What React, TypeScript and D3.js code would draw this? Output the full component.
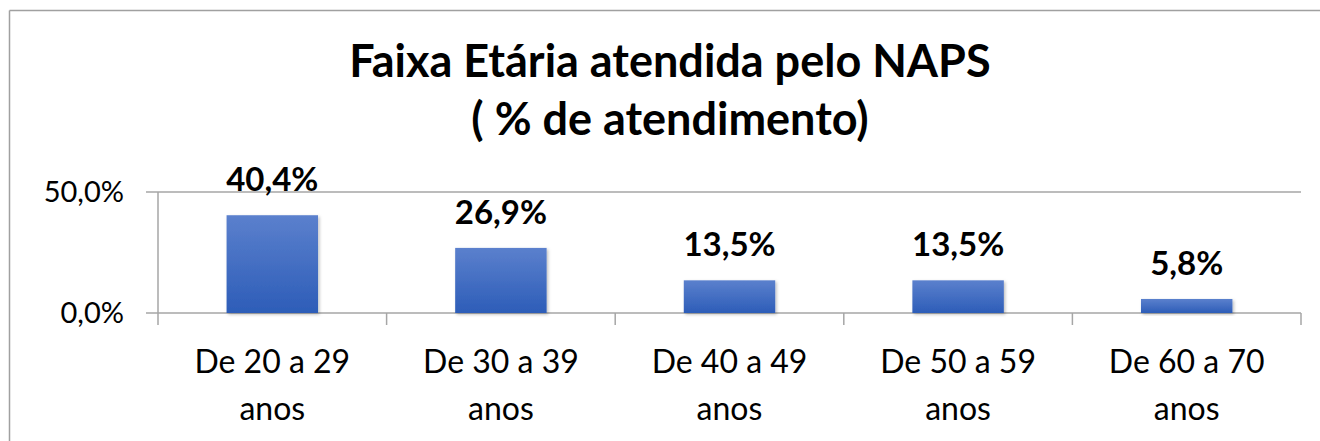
import React from "react";
import * as d3 from "d3";

const categories = ["De 20 a 29|anos", "De 30 a 39|anos", "De 40 a 49|anos", "De 50 a 59|anos", "De 60 a 70|anos"];
const values = [40.4, 26.9, 13.5, 13.5, 5.8];
const yTicks = [0, 50];
const titleLines = ["Faixa Etária atendida pelo NAPS", "( % de atendimento)"];

const W = 1320;
const H = 441;
const FONT = "Lato, 'Open Sans', sans-serif";

const fmt = (v: number) => v.toFixed(1).replace(".", ",") + "%";

export default function App() {
  const left = 158, right = 1301, top = 192, bottom = 313;
  const x = d3.scaleBand<string>().domain(categories).range([left, right]).paddingInner(0.6).paddingOuter(0.3);
  const xOuter = d3.scaleBand<string>().domain(categories).range([left, right]);
  const y = d3.scaleLinear().domain([0, 50]).range([bottom, top]);

  return (
    <div style={{ position: "absolute", left: 0, top: 0 }}>
      <svg width={W} height={H} style={{ display: "block" }}>
        <defs>
          <linearGradient id="barGrad" x1="0" y1="0" x2="0" y2="1">
            <stop offset="0%" stopColor="#5b80cd" />
            <stop offset="100%" stopColor="#2d5db8" />
          </linearGradient>
          <filter id="shadow" x="-10%" y="-10%" width="130%" height="130%">
            <feDropShadow dx="1.5" dy="1.5" stdDeviation="1.5" floodColor="#000" floodOpacity="0.25" />
          </filter>
        </defs>
        <rect x={0} y={0} width={W} height={H} fill="#fff" />
        {/* outer border */}
        <line x1={9.5} y1={10.5} x2={W} y2={10.5} stroke="#a0a0a0" strokeWidth={1.5} />
        <line x1={9.5} y1={10.5} x2={9.5} y2={H} stroke="#a0a0a0" strokeWidth={1.5} />

        {/* title */}
        {titleLines.map((t, i) => (
          <text key={i} x={670} y={77 + i * 58} textAnchor="middle" fontFamily={FONT} fontWeight={700} fontSize={45} fill="#000">
            {t}
          </text>
        ))}

        {/* gridlines */}
        {yTicks.map((t) => (
          <g key={t}>
            <line x1={146} x2={right} y1={y(t)} y2={y(t)} stroke="#a6a6a6" strokeWidth={1.5} />
            <text x={124} y={y(t)} dy="0.36em" textAnchor="end" fontFamily={FONT} fontSize={29} fill="#000">
              {fmt(t)}
            </text>
          </g>
        ))}
        {/* y axis */}
        <line x1={left} x2={left} y1={top} y2={bottom + 12} stroke="#a6a6a6" strokeWidth={1.5} />
        {/* x ticks */}
        {categories.map((c) => (
          <line key={c} x1={(xOuter(c) as number) + xOuter.bandwidth()} x2={(xOuter(c) as number) + xOuter.bandwidth()} y1={bottom} y2={bottom + 12} stroke="#a6a6a6" strokeWidth={1.5} />
        ))}

        {/* bars */}
        {categories.map((c, i) => (
          <rect key={c} x={x(c)} y={y(values[i])} width={x.bandwidth()} height={bottom - y(values[i])} fill="url(#barGrad)" filter="url(#shadow)" />
        ))}
        {/* data labels */}
        {categories.map((c, i) => (
          <text key={c} x={(x(c) as number) + x.bandwidth() / 2} y={y(values[i]) - 24} textAnchor="middle" fontFamily={FONT} fontWeight={700} fontSize={33} fill="#000">
            {fmt(values[i])}
          </text>
        ))}
        {/* category labels */}
        {categories.map((c) => {
          const cx = (xOuter(c) as number) + xOuter.bandwidth() / 2;
          return (
            <text key={c} x={cx} textAnchor="middle" fontFamily={FONT} fontSize={32} fill="#000">
              {c.split("|").map((l, j) => (
                <tspan key={j} x={cx} y={373 + j * 47}>{l}</tspan>
              ))}
            </text>
          );
        })}
      </svg>
    </div>
  );
}
